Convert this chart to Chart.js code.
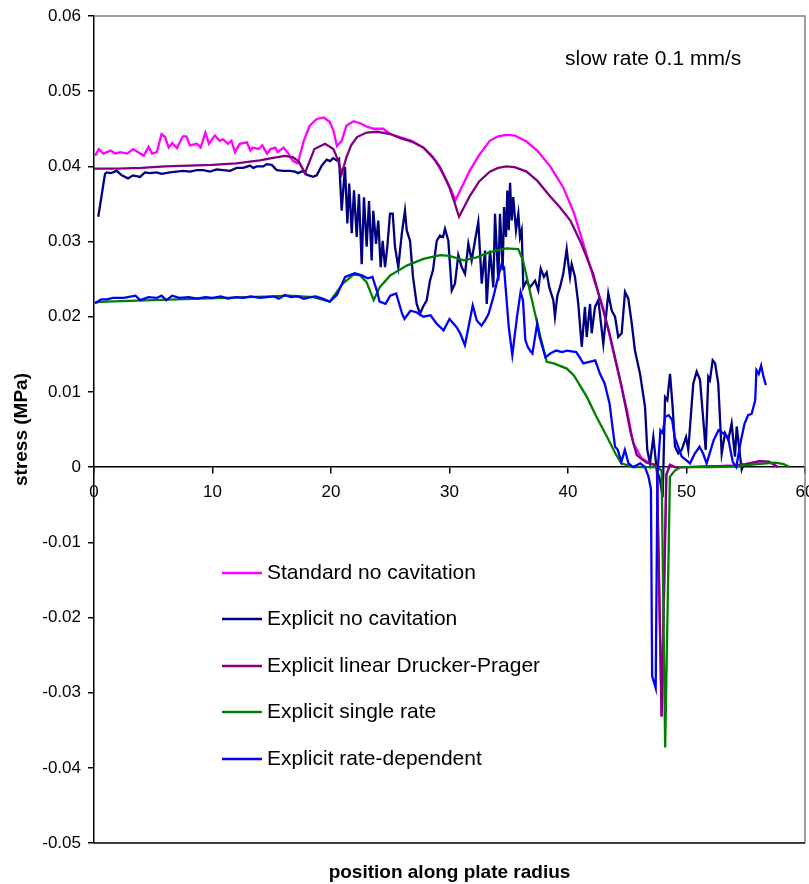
<!DOCTYPE html>
<html>
<head>
<meta charset="utf-8">
<script src="https://cdn.jsdelivr.net/npm/chart.js@4.4.0/dist/chart.umd.min.js"></script>
<style>
  html, body { margin: 0; padding: 0; background: #fff; }
  #wrap { width: 809px; height: 884px; position: relative; }
</style>
</head>
<body>
<div id="wrap"><canvas id="chart"></canvas></div>
<script>
// axis ticks
const xTicks = [0, 10, 20, 30, 40, 50, 60];
const yTicks = [0.06, 0.05, 0.04, 0.03, 0.02, 0.01, 0, -0.01, -0.02, -0.03, -0.04, -0.05];

const seriesNames = [
  "Standard no cavitation",
  "Explicit no cavitation",
  "Explicit linear Drucker-Prager",
  "Explicit single rate",
  "Explicit rate-dependent",
];
const seriesColors = ["#FF00FF", "#000080", "#800080", "#008000", "#0000FF"];

// Standard no cavitation
const stdX = [0.1, 0.4, 0.8, 1.4, 1.8, 2.2, 2.8, 3.3, 3.9, 4.2,
  4.6, 4.9, 5.3, 5.7, 6.0, 6.3, 6.6, 7.0, 7.5, 7.8,
  8.1, 8.7, 9.0, 9.4, 9.7, 10.2, 10.6, 10.9, 11.3, 11.6,
  11.9, 12.3, 12.9, 13.2, 13.4, 13.9, 14.2, 14.6, 14.9, 15.3,
  15.5, 16.0, 16.4, 16.8, 17.2, 17.7, 18.2, 18.8, 19.4, 19.9,
  20.2, 20.5, 20.9, 21.3, 21.9, 22.5, 23.0, 23.6, 24.4, 25.0,
  25.8, 26.8, 27.8, 28.8, 29.6, 30.1, 30.5, 30.9, 31.7, 32.5,
  33.4, 34.1, 34.8, 35.5, 36.5, 37.4, 38.5, 39.6, 40.5, 41.3,
  42.2, 43.0, 43.8, 44.4, 45.0, 45.5, 46.2, 46.9, 47.5, 47.9,
  48.3, 48.6, 49.0, 50.0, 52.0, 54.0, 55.0, 56.2, 57.0, 57.7];
const stdY = [0.0414, 0.0423, 0.0417, 0.0421, 0.0417, 0.0419, 0.0417, 0.0423, 0.0417, 0.0414,
  0.0426, 0.0417, 0.0419, 0.0443, 0.0439, 0.0425, 0.0431, 0.0424, 0.0440, 0.0440,
  0.0428, 0.0430, 0.0425, 0.0445, 0.0430, 0.0441, 0.0434, 0.0436, 0.0430, 0.0434,
  0.0419, 0.0430, 0.0432, 0.0421, 0.0425, 0.0423, 0.0428, 0.0417, 0.0423, 0.0425,
  0.0419, 0.0425, 0.0417, 0.0407, 0.0404, 0.0434, 0.0454, 0.0463, 0.0465, 0.0459,
  0.0448, 0.0427, 0.0434, 0.0454, 0.0460, 0.0457, 0.0453, 0.0450, 0.0450, 0.0443,
  0.0439, 0.0434, 0.0425, 0.0408, 0.0386, 0.0370, 0.0355, 0.0368, 0.0394, 0.0415,
  0.0434, 0.0440, 0.0442, 0.0441, 0.0433, 0.0421, 0.0400, 0.0372, 0.0338, 0.0297,
  0.0249, 0.0210, 0.0155, 0.0115, 0.0074, 0.0032, 0.0012, 0.0005, 0.0003, -0.0330,
  -0.0010, 0.0003, 0.0000, 0.0000, 0.0001, 0.0002, 0.0004, 0.0008, 0.0007, 0.0000];

// Explicit no cavitation
const noCavX = [0.36, 0.93, 1.07, 1.43, 1.92, 2.34, 2.87, 3.29, 3.88, 4.30,
  4.73, 5.29, 5.71, 6.41, 6.98, 7.51, 8.10, 8.67, 9.22, 9.79,
  10.35, 10.89, 11.48, 12.04, 12.60, 13.16, 13.44, 13.73, 14.29, 14.57,
  15.0, 15.42, 15.97, 16.54, 16.96, 17.22, 17.64, 17.95, 18.48, 18.79,
  19.22, 19.64, 19.92, 20.19, 20.48, 20.68, 20.9, 21.18, 21.38, 21.54,
  21.75, 21.94, 22.17, 22.36, 22.59, 22.78, 23.01, 23.21, 23.43, 23.57,
  23.80, 23.99, 24.19, 24.36, 24.56, 24.75, 24.98, 25.21, 25.40, 25.68,
  25.97, 26.24, 26.39, 26.67, 26.92, 27.23, 27.51, 27.76, 28.08, 28.35,
  28.61, 28.92, 29.20, 29.45, 29.62, 29.90, 30.19, 30.46, 30.74, 31.03,
  31.31, 31.59, 31.87, 32.15, 32.43, 32.72, 33.0, 33.14, 33.42, 33.70,
  33.84, 34.12, 34.26, 34.49, 34.6, 34.77, 34.88, 35.0, 35.11, 35.25,
  35.38, 35.61, 35.81, 35.95, 36.09, 36.23, 36.51, 36.79, 37.22, 37.49,
  37.70, 37.97, 38.20, 38.42, 38.76, 38.90, 39.10, 39.32, 39.60, 39.89,
  40.03, 40.17, 40.31, 40.59, 40.87, 41.16, 41.43, 41.58, 41.86, 42.0,
  42.28, 42.56, 42.98, 43.40, 43.69, 43.97, 44.24, 44.53, 44.81, 45.09,
  45.38, 45.65, 46.08, 46.50, 46.69, 46.92, 47.2, 47.49, 47.76, 47.99,
  48.19, 48.38, 48.61, 48.83, 49.03, 49.31, 49.59, 49.96, 50.15, 50.57,
  50.86, 51.14, 51.42, 51.62, 51.84, 51.98, 52.21, 52.41, 52.68, 52.97,
  53.25, 53.53, 53.81, 54.09, 54.24, 54.46, 54.66, 54.77];
const noCavY = [0.0333, 0.0390, 0.0392, 0.0391, 0.0394, 0.0388, 0.0384, 0.0388, 0.0386, 0.0392,
  0.0391, 0.0392, 0.0390, 0.0392, 0.0393, 0.0394, 0.0393, 0.0395, 0.0395, 0.0393,
  0.0396, 0.0395, 0.0394, 0.0398, 0.0398, 0.0401, 0.0398, 0.0400, 0.0400, 0.0403,
  0.0402, 0.0395, 0.0394, 0.0394, 0.0393, 0.0391, 0.0394, 0.0389, 0.0386, 0.0388,
  0.0401, 0.0409, 0.0407, 0.0411, 0.0408, 0.0410, 0.0341, 0.0399, 0.0324, 0.0377,
  0.0311, 0.0368, 0.0306, 0.0363, 0.0270, 0.0359, 0.0293, 0.0354, 0.0275, 0.0341,
  0.0297, 0.0328, 0.0266, 0.0301, 0.0266, 0.0293, 0.0337, 0.0337, 0.0293, 0.0266,
  0.0310, 0.0341, 0.0315, 0.0301, 0.0253, 0.0217, 0.0204, 0.0213, 0.0222, 0.0248,
  0.0262, 0.0301, 0.0308, 0.0306, 0.0317, 0.0301, 0.0235, 0.0244, 0.0282, 0.0266,
  0.0257, 0.0297, 0.0275, 0.0301, 0.0326, 0.0244, 0.0288, 0.0217, 0.0288, 0.0239,
  0.0337, 0.0248, 0.0337, 0.0262, 0.0346, 0.0306, 0.0368, 0.0315, 0.0378, 0.0328,
  0.0359, 0.0315, 0.0337, 0.0306, 0.0315, 0.0239, 0.0248, 0.0239, 0.0248, 0.0235,
  0.0264, 0.0253, 0.0259, 0.0239, 0.0222, 0.0200, 0.0228, 0.0239, 0.0257, 0.0290,
  0.0270, 0.0253, 0.0270, 0.0253, 0.0217, 0.0160, 0.0213, 0.0173, 0.0217, 0.0178,
  0.0213, 0.0222, 0.0164, 0.0231, 0.0208, 0.0200, 0.0173, 0.0178, 0.0233, 0.0224,
  0.0191, 0.0155, 0.0124, 0.0080, 0.0023, 0.0005, 0.0040, -0.0004, -0.0017, -0.0040,
  0.0093, 0.0089, 0.0124, 0.0080, 0.0027, 0.0018, 0.0023, 0.0040, 0.0023, 0.0111,
  0.0127, 0.0116, 0.0062, 0.0023, 0.0120, 0.0116, 0.0142, 0.0138, 0.0111, 0.0018,
  0.0045, 0.0036, 0.0058, 0.0014, 0.0054, 0.0023, -0.0003, 0.0002];

// Explicit linear Drucker-Prager
const dpX = [0, 2, 4, 6, 8, 10, 12, 14, 15, 16.1,
  16.8, 17.3, 17.8, 18.2, 18.6, 19.5, 20.2, 20.6, 20.9, 21.3,
  21.7, 22.2, 23.0, 23.9, 25.0, 25.8, 26.8, 27.8, 28.5, 29.2,
  30.0, 30.4, 30.8, 31.2, 31.7, 32.5, 33.4, 34.1, 34.8, 35.5,
  36.5, 37.4, 38.5, 39.3, 40.2, 41.1, 42.1, 42.8, 43.5, 44.4,
  44.8, 45.3, 45.8, 46.6, 47.5, 47.9, 48.3, 48.6, 49.0, 50.0,
  52.0, 54.0, 55.0, 56.2, 57.0, 57.7];
const dpY = [0.0397, 0.0397, 0.0398, 0.0400, 0.0401, 0.0402, 0.0404, 0.0408, 0.0411, 0.0414,
  0.0412, 0.0406, 0.0391, 0.0407, 0.0423, 0.0430, 0.0423, 0.0408, 0.0390, 0.0412,
  0.0428, 0.0439, 0.0445, 0.0446, 0.0443, 0.0438, 0.0433, 0.0425, 0.0414, 0.0399,
  0.0372, 0.0353, 0.0333, 0.0345, 0.0360, 0.0380, 0.0393, 0.0398, 0.0400, 0.0399,
  0.0393, 0.0381, 0.0360, 0.0346, 0.0328, 0.0298, 0.0258, 0.0218, 0.0178, 0.0116,
  0.0085, 0.0045, 0.0016, 0.0006, 0.0002, -0.0332, -0.0010, 0.0003, 0.0000, 0.0000,
  0.0001, 0.0002, 0.0004, 0.0008, 0.0007, 0.0000];

// Explicit single rate
const singleX = [0.1, 1, 3, 5, 7, 9, 11, 13, 15, 16.5,
  17.5, 18.5, 19.9, 21.0, 21.9, 22.45, 23.0, 23.6, 24.1, 25.0,
  26.4, 27.8, 29.2, 30.0, 31.2, 32.3, 33.4, 34.8, 35.8, 36.2,
  36.9, 37.6, 38.2, 38.8, 39.9, 40.5, 41.6, 42.4, 43.3, 44.0,
  44.5, 45.5, 47.6, 47.9, 48.2, 48.6, 49.0, 49.5, 52.0, 54.0,
  56.0, 57.5, 58.2, 58.7];
const singleY = [0.0219, 0.0220, 0.0221, 0.0222, 0.0223, 0.0224, 0.0225, 0.0226, 0.0227, 0.0228,
  0.0227, 0.0226, 0.0220, 0.0244, 0.0256, 0.0255, 0.0246, 0.0222, 0.0239, 0.0255,
  0.0268, 0.0277, 0.0282, 0.0281, 0.0275, 0.0279, 0.0286, 0.0291, 0.0290, 0.0275,
  0.0226, 0.0178, 0.0140, 0.0138, 0.0131, 0.0122, 0.0093, 0.0067, 0.0040, 0.0018,
  0.0005, 0.0000, 0.0000, -0.0005, -0.0373, -0.0013, -0.0005, 0.0000, 0.0000, 0.0001,
  0.0004, 0.0006, 0.0004, 0.0000];

// Explicit rate-dependent
const rateX = [0.08, 0.6, 1.1, 1.6, 2.5, 3.5, 3.9, 4.6, 5.3, 5.7,
  6.1, 6.6, 7.2, 8.0, 8.7, 9.4, 10.0, 10.7, 11.3, 12.0,
  12.6, 13.2, 14.0, 14.6, 15.2, 15.6, 16.1, 16.6, 17.2, 17.7,
  18.3, 18.7, 19.3, 19.9, 20.5, 21.2, 22.0, 22.6, 23.1, 23.5,
  23.9, 24.1, 24.6, 25.0, 25.5, 26.0, 26.2, 26.7, 27.2, 27.8,
  28.4, 28.9, 29.5, 30.0, 30.6, 30.9, 31.3, 31.6, 31.96, 32.3,
  32.7, 33.0, 33.3, 33.7, 34.1, 34.4, 34.6, 34.8, 35.0, 35.3,
  35.7, 36.0, 36.2, 36.4, 36.6, 36.8, 37.0, 37.4, 37.6, 38.1,
  38.5, 39.0, 39.5, 39.9, 40.7, 41.3, 42.3, 42.7, 43.1, 43.5,
  43.97, 44.2, 44.5, 44.8, 45.1, 45.5, 46.1, 46.5, 46.8, 47.0,
  47.1, 47.4, 47.55, 47.8, 48.0, 48.2, 48.5, 48.8, 49.0, 49.3,
  49.6, 50.0, 50.3, 50.7, 51.1, 51.4, 51.7, 52.3, 52.7, 53.1,
  53.5, 53.9, 54.2, 54.6, 54.9, 55.2, 55.5, 55.8, 55.9, 56.1,
  56.3, 56.5, 56.7];
const rateY = [0.0218, 0.0223, 0.0223, 0.0225, 0.0225, 0.0228, 0.0222, 0.0226, 0.0225, 0.0228,
  0.0222, 0.0228, 0.0225, 0.0226, 0.0224, 0.0226, 0.0225, 0.0227, 0.0224, 0.0226,
  0.0225, 0.0227, 0.0225, 0.0226, 0.0227, 0.0224, 0.0229, 0.0226, 0.0227, 0.0224,
  0.0226, 0.0227, 0.0224, 0.0220, 0.0229, 0.0253, 0.0258, 0.0255, 0.0251, 0.0253,
  0.0233, 0.0220, 0.0217, 0.0228, 0.0231, 0.0204, 0.0197, 0.0208, 0.0206, 0.0200,
  0.0202, 0.0191, 0.0182, 0.0197, 0.0186, 0.0178, 0.0162, 0.0186, 0.0215, 0.0195,
  0.0188, 0.0195, 0.0204, 0.0226, 0.0253, 0.0270, 0.0266, 0.0226, 0.0186, 0.0149,
  0.0200, 0.0233, 0.0222, 0.0169, 0.0160, 0.0155, 0.0151, 0.0191, 0.0173, 0.0146,
  0.0151, 0.0155, 0.0153, 0.0155, 0.0153, 0.0138, 0.0142, 0.0124, 0.0111, 0.0085,
  0.0027, 0.0023, 0.0007, 0.0023, 0.0005, 0.0000, 0.0005, 0.0000, -0.0013, -0.0030,
  -0.0278, -0.0294, -0.0010, 0.0049, 0.0045, 0.0067, 0.0069, 0.0062, 0.0040, 0.0027,
  0.0014, 0.0009, 0.0005, 0.0018, 0.0027, 0.0018, 0.0005, 0.0036, 0.0049, 0.0045,
  0.0040, 0.0007, 0.0000, 0.0036, 0.0058, 0.0069, 0.0071, 0.0089, 0.0129, 0.0124,
  0.0135, 0.0120, 0.0109];

const seriesX = [stdX, noCavX, dpX, singleX, rateX];
const seriesY = [stdY, noCavY, dpY, singleY, rateY];

function toPoints(xs, ys) {
  return xs.map((x, i) => ({ x: x, y: ys[i] }));
}

Chart.defaults.font.family = "'Liberation Sans', Arial, sans-serif";
Chart.defaults.color = "#000";

// frame, axis titles, note and the legend inside the plot
const decorPlugin = {
  id: "decor",
  beforeDatasetsDraw(chart) {
    const ctx = chart.ctx;
    const a = chart.chartArea;
    ctx.save();
    ctx.lineWidth = 1.5;
    ctx.strokeStyle = "#808080";
    ctx.beginPath();
    ctx.moveTo(a.left, a.top);
    ctx.lineTo(a.right, a.top);
    ctx.lineTo(a.right, a.bottom);
    ctx.stroke();
    ctx.strokeStyle = "#000";
    ctx.beginPath();
    ctx.moveTo(a.left, a.bottom);
    ctx.lineTo(a.right, a.bottom);
    ctx.stroke();
    ctx.restore();
  },
  afterDraw(chart) {
    const ctx = chart.ctx;
    const a = chart.chartArea;
    ctx.save();
    ctx.fillStyle = "#000";

    // y title
    ctx.font = "bold 19px 'Liberation Sans', Arial, sans-serif";
    ctx.textAlign = "center";
    ctx.textBaseline = "middle";
    ctx.save();
    ctx.translate(22, (a.top + a.bottom) / 2);
    ctx.rotate(-Math.PI / 2);
    ctx.fillText("stress (MPa)", 0, 0);
    ctx.restore();

    // x title
    ctx.fillText("position along plate radius", (a.left + a.right) / 2, 873);

    // note
    ctx.font = "21px 'Liberation Sans', Arial, sans-serif";
    ctx.textAlign = "left";
    ctx.fillText("slow rate 0.1 mm/s", 565, 59);

    // legend
    const rows = [573, 619, 666, 712, 759];
    seriesNames.forEach((name, i) => {
      ctx.strokeStyle = seriesColors[i];
      ctx.lineWidth = 2.3;
      ctx.beginPath();
      ctx.moveTo(222, rows[i]);
      ctx.lineTo(262, rows[i]);
      ctx.stroke();
      ctx.fillText(name, 267, rows[i]);
    });
    ctx.restore();
  },
};

const ctx = document.getElementById("chart").getContext("2d");
new Chart(ctx, {
  type: "line",
  data: {
    datasets: seriesNames.map((name, i) => ({
      label: name,
      data: toPoints(seriesX[i], seriesY[i]),
      borderColor: seriesColors[i],
      backgroundColor: seriesColors[i],
      borderWidth: 2.3,
      pointRadius: 0,
      tension: 0,
      fill: false,
      order: seriesNames.length - i,
    })),
  },
  options: {
    responsive: true,
    maintainAspectRatio: false,
    animation: false,
    layout: { padding: { left: 0, top: 16, right: 4, bottom: 41 } },
    plugins: {
      legend: { display: false },
      tooltip: { enabled: false },
    },
    scales: {
      x: {
        type: "linear",
        position: { y: 0 },
        min: 0,
        max: 60,
        afterBuildTicks: (scale) => {
          scale.ticks = xTicks.map((v) => ({ value: v }));
        },
        afterFit: (scale) => {
          scale.paddingLeft = 0;
          scale.paddingRight = 0;
        },
        ticks: {
          font: { size: 17 },
          padding: 9,
          maxRotation: 0,
          callback: (v) => String(v),
        },
        grid: {
          drawOnChartArea: false,
          tickLength: 6,
          color: "#000",
          lineWidth: 1.5,
        },
        border: { color: "#000", width: 1.5 },
      },
      y: {
        type: "linear",
        min: -0.05,
        max: 0.06,
        afterBuildTicks: (scale) => {
          scale.ticks = yTicks.map((v) => ({ value: v }));
        },
        afterFit: (scale) => {
          scale.width = 94;
          scale.paddingTop = 0;
          scale.paddingBottom = 0;
        },
        ticks: {
          font: { size: 17 },
          padding: 7,
          callback: (v) => String(Number(v.toFixed(2))),
        },
        grid: {
          drawOnChartArea: false,
          tickLength: 6,
          color: "#000",
          lineWidth: 1.5,
        },
        border: { color: "#000", width: 1.5 },
      },
    },
  },
  plugins: [decorPlugin],
});
</script>
</body>
</html>
